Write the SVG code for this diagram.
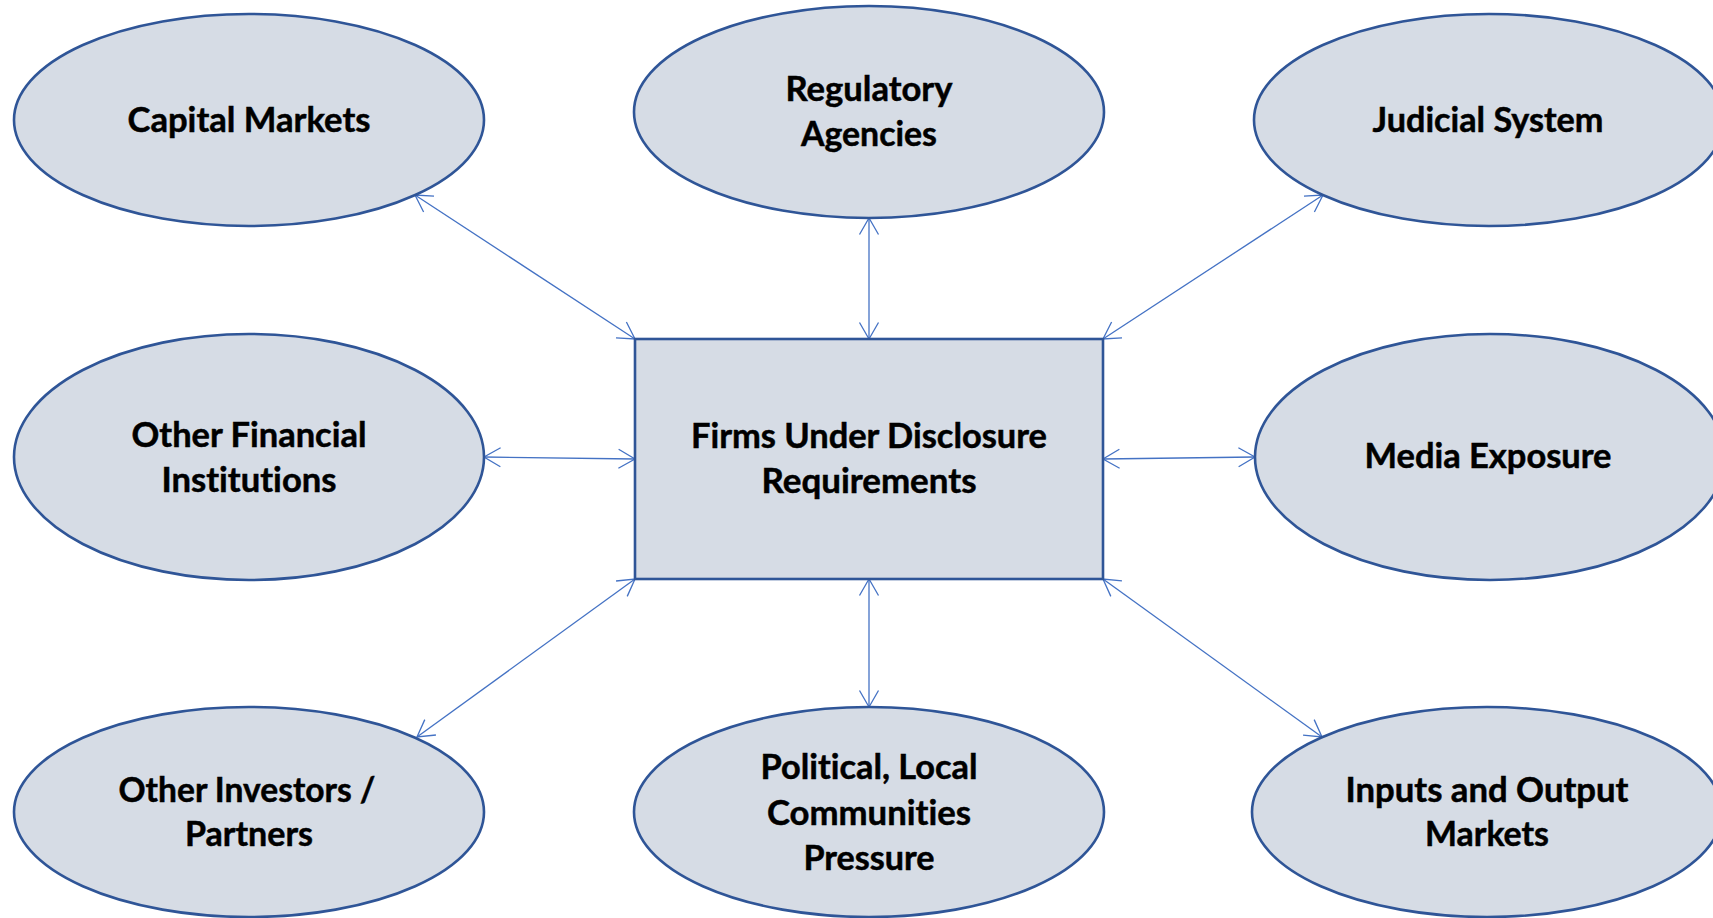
<svg xmlns="http://www.w3.org/2000/svg" width="1713" height="918" viewBox="0 0 1713 918">
  <defs>
    <style>
      .node { fill: #D6DCE5; stroke: #2F5597; stroke-width: 2.6; }
      .label { font-family: Lato, "Liberation Sans", sans-serif; font-weight: bold; font-size: 35px; fill: #000; stroke: #000; stroke-width: 0.5; text-anchor: middle; font-variant-ligatures: none; font-feature-settings: "liga" 0, "clig" 0; }
      .link { stroke: #4472C4; stroke-width: 1.3; fill: none; marker-start: url(#arrow); marker-end: url(#arrow); }
    </style>
    <marker id="arrow" markerUnits="userSpaceOnUse" orient="auto-start-reverse" viewBox="-20 -12 22 24" refX="0" refY="0" markerWidth="22" markerHeight="24">
      <path d="M -16.5 -9.5 L 0 0 L -16.5 9.5" fill="none" stroke="#4472C4" stroke-width="1.3"/>
    </marker>
  </defs>
  <rect width="1713" height="918" fill="#FFFFFF"/>

  <!-- connectors between the firm box and its stakeholders -->
  <g id="connectors">
    <line class="link" x1="415" y1="195" x2="635" y2="339"/>
    <line class="link" x1="869" y1="218" x2="869" y2="339"/>
    <line class="link" x1="1323" y1="195" x2="1103" y2="339"/>
    <line class="link" x1="484" y1="457" x2="635" y2="459"/>
    <line class="link" x1="1103" y1="459" x2="1255" y2="457"/>
    <line class="link" x1="635" y1="579" x2="417" y2="737"/>
    <line class="link" x1="869" y1="579" x2="869" y2="707"/>
    <line class="link" x1="1103" y1="579" x2="1322" y2="737"/>
  </g>

  <g id="capital-markets">
    <ellipse class="node" cx="249" cy="120" rx="235" ry="106"/>
    <text class="label" x="249" y="132" textLength="243" lengthAdjust="spacingAndGlyphs">Capital Markets</text>
  </g>

  <g id="regulatory-agencies">
    <ellipse class="node" cx="869" cy="112" rx="235" ry="106"/>
    <text class="label" x="869" y="101" textLength="167" lengthAdjust="spacingAndGlyphs">Regulatory</text>
    <text class="label" x="869" y="146" textLength="136" lengthAdjust="spacingAndGlyphs">Agencies</text>
  </g>

  <g id="judicial-system">
    <ellipse class="node" cx="1489" cy="120" rx="235" ry="106"/>
    <text class="label" x="1488" y="132" textLength="231" lengthAdjust="spacingAndGlyphs">Judicial System</text>
  </g>

  <g id="other-financial-institutions">
    <ellipse class="node" cx="249" cy="457" rx="235" ry="123"/>
    <text class="label" x="249" y="447" textLength="235" lengthAdjust="spacingAndGlyphs">Other Financial</text>
    <text class="label" x="249" y="492" textLength="175" lengthAdjust="spacingAndGlyphs">Institutions</text>
  </g>

  <g id="firms">
    <rect class="node" x="635" y="339" width="468" height="240"/>
    <text class="label" x="869" y="448" textLength="356" lengthAdjust="spacingAndGlyphs">Firms Under Disclosure</text>
    <text class="label" x="869" y="493" textLength="215" lengthAdjust="spacingAndGlyphs">Requirements</text>
  </g>

  <g id="media-exposure">
    <ellipse class="node" cx="1490" cy="457" rx="235" ry="123"/>
    <text class="label" x="1488" y="468" textLength="247" lengthAdjust="spacingAndGlyphs">Media Exposure</text>
  </g>

  <g id="other-investors">
    <ellipse class="node" cx="249" cy="812" rx="235" ry="105"/>
    <text class="label" x="247" y="802" textLength="257" lengthAdjust="spacingAndGlyphs">Other Investors /</text>
    <text class="label" x="249" y="846" textLength="128" lengthAdjust="spacingAndGlyphs">Partners</text>
  </g>

  <g id="political-pressure">
    <ellipse class="node" cx="869" cy="812" rx="235" ry="105"/>
    <text class="label" x="869" y="779" textLength="217" lengthAdjust="spacingAndGlyphs">Political, Local</text>
    <text class="label" x="869" y="825" textLength="204" lengthAdjust="spacingAndGlyphs">Communities</text>
    <text class="label" x="869" y="870" textLength="131" lengthAdjust="spacingAndGlyphs">Pressure</text>
  </g>

  <g id="input-output-markets">
    <ellipse class="node" cx="1487" cy="812" rx="235" ry="105"/>
    <text class="label" x="1487" y="802" textLength="283" lengthAdjust="spacingAndGlyphs">Inputs and Output</text>
    <text class="label" x="1487" y="846" textLength="124" lengthAdjust="spacingAndGlyphs">Markets</text>
  </g>
</svg>
